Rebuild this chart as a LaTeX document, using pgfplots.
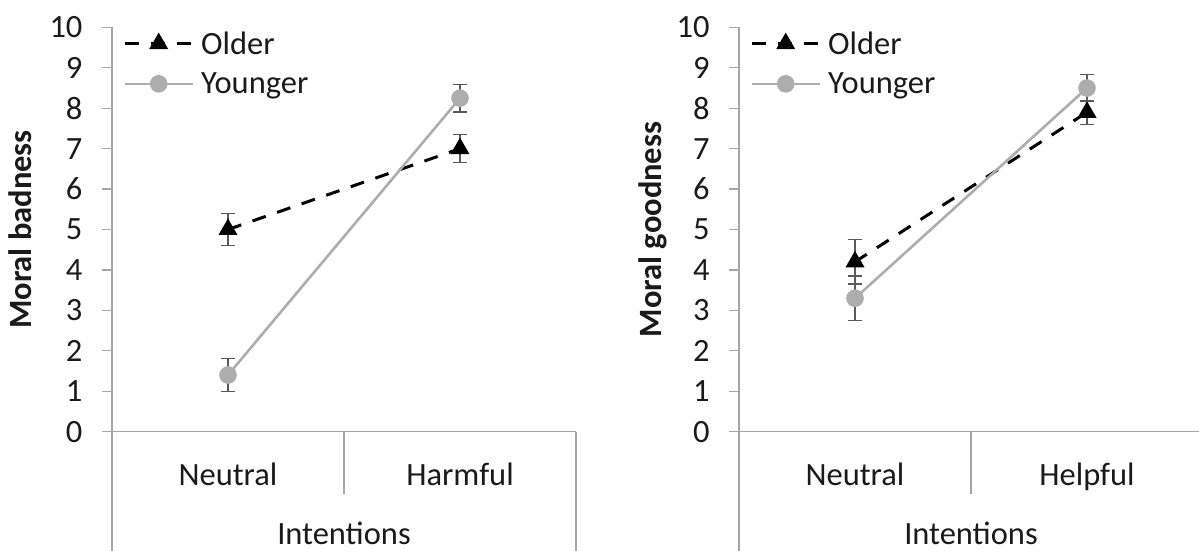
\documentclass[border=0pt]{standalone}
\usepackage{pgfplots}
\pgfplotsset{compat=1.18}
\usepackage{fontspec}
\setmainfont{Carlito}

\definecolor{axisgray}{HTML}{A6A6A6}
\definecolor{younggray}{HTML}{ADADAD}
\definecolor{errgray}{HTML}{595959}
\definecolor{txt}{HTML}{1A1A1A}

\newcommand{\chartfont}{\fontsize{32.5}{38}\selectfont}

\tikzset{catlines/.style={axisgray, line width=1.2pt}}

\pgfplotsset{
  panel/.style={
    scale only axis, width=464pt, height=404.2pt,
    xmin=0, xmax=2, ymin=0, ymax=10,
    axis x line=bottom, axis y line=left,
    axis line style={draw=axisgray, line width=1.2pt, -},
    ytick={0,...,10}, xtick=\empty,
    tick align=outside, major tick length=10pt,
    ytick style={draw=axisgray, line width=1.2pt},
    yticklabel style={font=\chartfont, text=txt, xshift=-16pt},
    /pgf/number format/assume math mode=true,
    clip=false,
    legend style={draw=none, fill=none, at={(0,1)}, anchor=north west,
      xshift=8pt, yshift=0pt, font=\chartfont, text=txt,
      cells={anchor=west}, row sep=13pt,
      /tikz/every odd column/.append style={column sep=5pt}},
    legend image code/.code={%
      \draw[mark repeat=2, mark phase=2]
        plot coordinates {(0pt,0pt) (34pt,0pt) (68pt,0pt)};},
  },
  errs/.style={
    error bars/.cd, y dir=both, y explicit,
    error bar style={errgray, line width=1.3pt, solid},
    error mark options={errgray, rotate=90, mark size=7pt, line width=1.3pt, solid},
  },
  older/.style={black, line width=3pt, dash pattern=on 14pt off 12pt,
    mark=triangle*, mark size=8pt, mark options={solid, fill=black}, errs},
  younger/.style={younggray, line width=2.6pt, solid,
    mark=*, mark size=7.5pt, mark options={solid, fill=younggray, draw=younggray}, errs},
}

\begin{document}
\begin{tikzpicture}[x=1pt, y=1pt]

% Left panel: moral badness
\begin{axis}[panel, at={(112pt,119.4pt)}, anchor=south west]
  \addplot[older] coordinates {(0.5,5.0) +- (0,0.40) (1.5,7.0) +- (0,0.35)};
  \addlegendentry{Older}
  \addplot[younger] coordinates {(0.5,1.4) +- (0,0.40) (1.5,8.25) +- (0,0.34)};
  \addlegendentry{Younger}
  \draw[catlines] (axis cs:1,0) -- ++(0,-62pt);
  \draw[catlines] (axis cs:0,0) -- ++(0,-125pt);
  \draw[catlines] (axis cs:2,0) -- ++(0,-125pt);
  \node[font=\chartfont, text=txt, anchor=base] at (axis cs:0.5,0) [yshift=-54pt] {Neutral};
  \node[font=\chartfont, text=txt, anchor=base] at (axis cs:1.5,0) [yshift=-54pt] {Harmful};
  \node[font=\chartfont, text=txt, anchor=base] at (axis cs:1,0) [yshift=-113pt] {Intentions};
  \node[xshift=-80pt, rotate=90, anchor=base, font=\chartfont\bfseries, text=txt]
    at (rel axis cs:0,0.5) {Moral badness};
\end{axis}

% Right panel: moral goodness
\begin{axis}[panel, at={(739pt,119.4pt)}, anchor=south west]
  \addplot[older] coordinates {(0.5,4.2) +- (0,0.55) (1.5,7.9) +- (0,0.30)};
  \addlegendentry{Older}
  \addplot[younger] coordinates {(0.5,3.3) +- (0,0.55) (1.5,8.5) +- (0,0.34)};
  \addlegendentry{Younger}
  \draw[catlines] (axis cs:1,0) -- ++(0,-62pt);
  \draw[catlines] (axis cs:0,0) -- ++(0,-125pt);
  \draw[catlines] (axis cs:2,0) -- ++(0,-125pt);
  \node[font=\chartfont, text=txt, anchor=base] at (axis cs:0.5,0) [yshift=-54pt] {Neutral};
  \node[font=\chartfont, text=txt, anchor=base] at (axis cs:1.5,0) [yshift=-54pt] {Helpful};
  \node[font=\chartfont, text=txt, anchor=base] at (axis cs:1,0) [yshift=-113pt] {Intentions};
  \node[xshift=-78pt, rotate=90, anchor=base, font=\chartfont\bfseries, text=txt]
    at (rel axis cs:0,0.5) {Moral goodness};
\end{axis}

\pgfresetboundingbox
\useasboundingbox (0,0) rectangle (1199pt,551pt);
\end{tikzpicture}
\end{document}
